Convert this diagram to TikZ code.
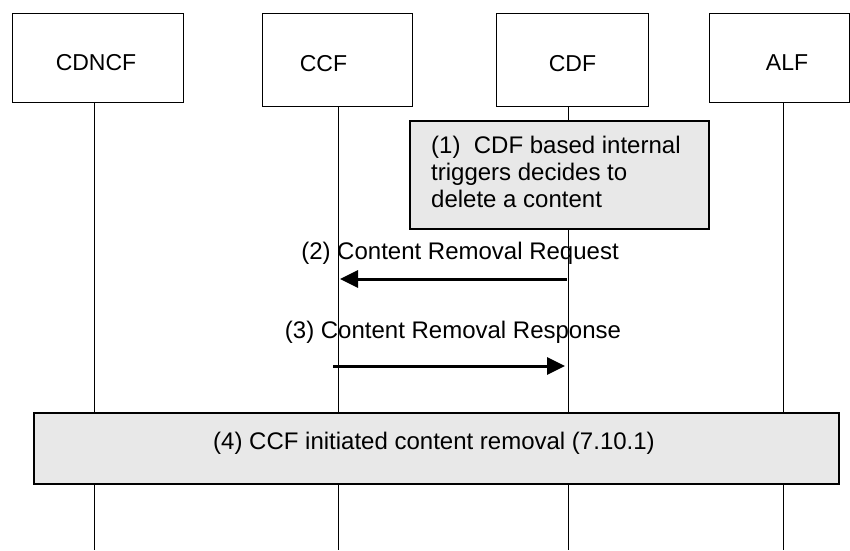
\documentclass[tikz,border=0pt]{standalone}
\usepackage{fontspec}
\setmainfont{Liberation Sans}
\usetikzlibrary{arrows.meta}
\definecolor{boxgray}{RGB}{232,232,232}
\begin{document}
\begin{tikzpicture}[x=1pt,y=-1pt,
  every node/.style={font=\fontsize{24}{27}\selectfont, inner sep=0pt},
  header/.style={font=\fontsize{23}{26}\selectfont},
  entity/.style={draw, line width=1pt, fill=white},
  lifeline/.style={line width=0.9pt},
  graybox/.style={draw, line width=1.8pt, fill=boxgray},
  msg/.style={line width=3pt, -{Triangle[length=18pt,width=17pt]}}]
\useasboundingbox (0,0) rectangle (850,550);
% header boxes
\draw[entity] (12,13) rectangle (183,102);
\draw[entity] (262,13) rectangle (412,106);
\draw[entity] (496,13) rectangle (648,106);
\draw[entity] (709,13) rectangle (849.5,102);
\node[header] (hCDNCF) at (96,63) {CDNCF};
\node[header] (hCCF) at (323.5,64) {CCF};
\node[header] (hCDF) at (572.5,64) {CDF};
\node[header] (hALF) at (787,63) {ALF};
% lifelines
\coordinate (l1t) at (94.5,102); \coordinate (l1b) at (94.5,550);
\coordinate (l2t) at (338,106); \coordinate (l2b) at (338,550);
\coordinate (l3t) at (568,106); \coordinate (l3b) at (568,550);
\coordinate (l4t) at (783,102); \coordinate (l4b) at (783,550);
\draw[lifeline] (l1t) -- (l1b);
\draw[lifeline] (l2t) -- (l2b);
\draw[lifeline] (l3t) -- (l3b);
\draw[lifeline] (l4t) -- (l4b);
% step 1
\draw[graybox] (410,121) rectangle (709,229);
\node[anchor=north west, align=left] (s1) at (431,136) {(1)\ \ CDF based internal\\triggers decides to\\delete a content};
% step 2
\node (t2) at (460,253) {(2) Content Removal Request};
\coordinate (a2s) at (567,279); \coordinate (a2e) at (340,279);
\draw[msg] (a2s) -- (a2e);
% step 3
\node (t3) at (453,332) {(3) Content Removal Response};
\coordinate (a3s) at (333,366); \coordinate (a3e) at (565,366);
\draw[msg] (a3s) -- (a3e);
% step 4
\draw[graybox] (34,413) rectangle (839,484);
\node (t4) at (434,443) {(4) CCF initiated content removal (7.10.1)};
\end{tikzpicture}
\end{document}
